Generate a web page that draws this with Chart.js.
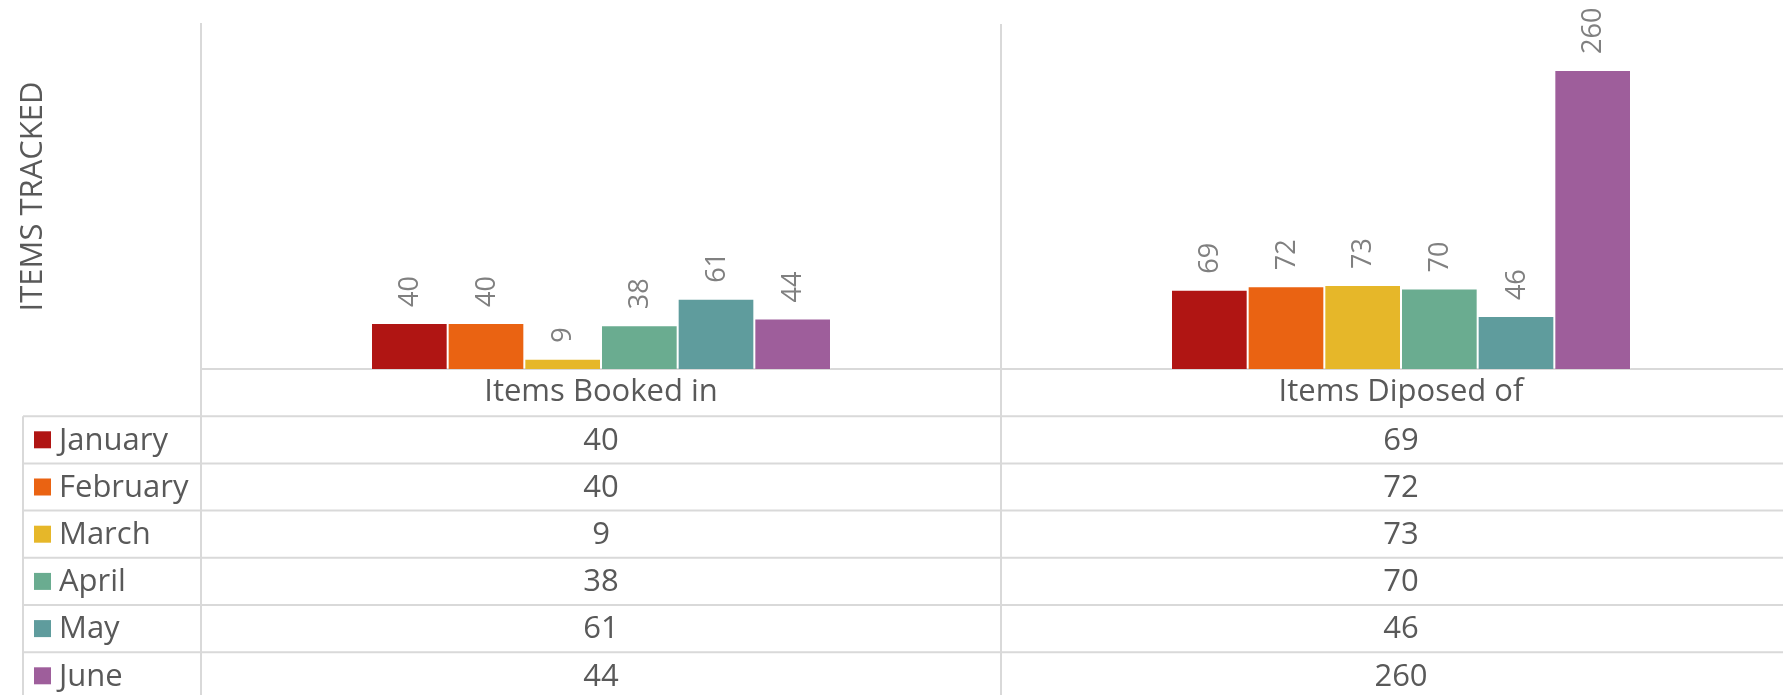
<!DOCTYPE html>
<html>
<head>
<meta charset="utf-8">
<script src="https://cdn.jsdelivr.net/npm/chart.js@4.4.1/dist/chart.umd.min.js"></script>
<style>
  html, body { margin: 0; padding: 0; overflow: hidden; background: #ffffff; width: 1783px; height: 695px; }
  #wrap { position: absolute; left: 0; top: 0; width: 1801px; height: 695px; }
</style>
</head>
<body>
<div id="wrap"><canvas id="c" width="1801" height="695"></canvas></div>
<script>
// ---- data ----
const categories = ["Items Booked in", "Items Diposed of"];
const months = ["January", "February", "March", "April", "May", "June"];
const january  = [40, 69];
const february = [40, 72];
const march    = [9, 73];
const april    = [38, 70];
const may      = [61, 46];
const june     = [44, 260];
const seriesValues = [january, february, march, april, may, june];
const monthColors = ["#B01513", "#EA6312", "#E6B729", "#6AAC90", "#5F9C9D", "#9E5E9B"];
const yAxisTitle = "ITEMS TRACKED";
const yMin = 0;
const yMax = 300;

// ---- style ----
const FONT = "'Open Sans', sans-serif";
const TEXT = "#595959";
const LABEL = "#808080";
const LINE = "#d9d9d9";
const ROW_H = 47.2;
const TABLE_LEFT = 23;

function line(ctx, x1, y1, x2, y2) {
  ctx.beginPath(); ctx.moveTo(x1, y1); ctx.lineTo(x2, y2); ctx.stroke();
}

const valueLabels = {
  id: 'valueLabels',
  afterDatasetsDraw(chart) {
    const ctx = chart.ctx;
    ctx.save();
    ctx.fillStyle = LABEL;
    ctx.font = "27px " + FONT;
    chart.data.datasets.forEach((ds, i) => {
      const meta = chart.getDatasetMeta(i);
      meta.data.forEach((bar, j) => {
        ctx.save();
        ctx.translate(bar.x + 1, bar.y - 16);
        ctx.rotate(-Math.PI / 2);
        ctx.textAlign = 'left';
        ctx.textBaseline = 'middle';
        ctx.fillText(String(ds.data[j]), 0, 0);
        ctx.restore();
      });
    });
    ctx.restore();
  }
};

const dataTable = {
  id: 'dataTable',
  afterDraw(chart) {
    const ctx = chart.ctx;
    const xs = chart.scales.x;
    const area = chart.chartArea;
    const top = area.bottom;
    const bottom = chart.height;
    const right = chart.width;
    const n = chart.data.datasets.length;
    const nc = chart.data.labels.length;
    const centers = [];
    for (let i = 0; i < nc; i++) centers.push(xs.getPixelForTick(i));
    const half = nc > 1 ? (centers[1] - centers[0]) / 2 : xs.width / 2;
    const bounds = centers.map(c => c - half);

    ctx.save();
    ctx.strokeStyle = LINE;
    ctx.lineWidth = 2;
    for (let k = 1; k <= n; k++) {
      const y = top + k * ROW_H;
      line(ctx, TABLE_LEFT, y, right, y);
    }
    line(ctx, TABLE_LEFT, top + ROW_H, TABLE_LEFT, bottom);
    bounds.forEach(b => line(ctx, b, top, b, bottom));

    ctx.font = "31px " + FONT;
    ctx.fillStyle = TEXT;
    ctx.textBaseline = 'middle';
    chart.data.datasets.forEach((ds, i) => {
      const yc = top + (i + 1.5) * ROW_H;
      ctx.fillStyle = ds.backgroundColor;
      ctx.fillRect(34, yc - 8.5, 17, 17);
      ctx.fillStyle = TEXT;
      ctx.textAlign = 'left';
      ctx.fillText(ds.label, 59, yc + 1);
      ctx.textAlign = 'center';
      ds.data.forEach((v, j) => ctx.fillText(String(v), centers[j], yc + 1));
    });
    ctx.restore();
  }
};

new Chart(document.getElementById('c'), {
  type: 'bar',
  data: {
    labels: categories,
    datasets: months.map((m, i) => ({
      label: m,
      data: seriesValues[i],
      backgroundColor: monthColors[i],
      borderColor: 'rgba(255,255,255,0.18)',
      borderWidth: 1,
      categoryPercentage: 0.575,
      barPercentage: 1
    }))
  },
  options: {
    responsive: false,
    animation: false,
    devicePixelRatio: 1,
    layout: { padding: { top: 24, left: 0, right: 0, bottom: 0 } },
    plugins: { legend: { display: false }, tooltip: { enabled: false } },
    scales: {
      x: {
        grid: { display: true, color: LINE, lineWidth: 2, drawTicks: false, offset: true },
        border: { display: true, color: LINE, width: 2 },
        ticks: { font: { family: FONT, size: 31 }, color: TEXT, padding: 5, maxRotation: 0, autoSkip: false },
        afterFit(s) { s.height = 326; }
      },
      y: {
        min: yMin, max: yMax,
        grid: { display: false },
        border: { display: true, color: LINE, width: 2 },
        ticks: { display: false },
        title: { display: true, text: yAxisTitle, color: TEXT, font: { family: FONT, size: 31 }, padding: { top: 15, bottom: 0 } },
        afterFit(s) { s.width = 201; }
      }
    }
  },
  plugins: [valueLabels, dataTable]
});
</script>
</body>
</html>
